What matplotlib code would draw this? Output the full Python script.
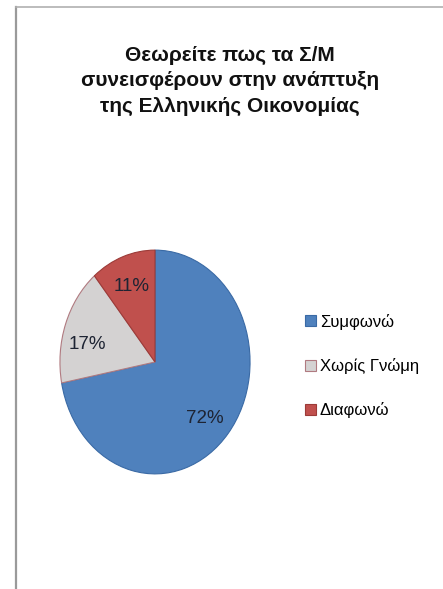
import matplotlib
matplotlib.use("Agg")
import matplotlib.pyplot as plt
from matplotlib.lines import Line2D

categories = ["Συμφωνώ", "Χωρίς Γνώμη", "Διαφωνώ"]
shares = [72, 17, 11]
colors = ["#4F81BD", "#D4D2D2", "#C0504D"]
edge_colors = ["#3A6AA5", "#B07A80", "#9C3B38"]
title = "Θεωρείτε πως τα Σ/Μ\nσυνεισφέρουν στην ανάπτυξη\nτης Ελληνικής Οικονομίας"

FONT = "Liberation Sans"
W, H = 443, 589
fig = plt.figure(figsize=(W / 100, H / 100), dpi=100)
fig.patch.set_facecolor("white")

# chart frame (left and top edges)
fig.add_artist(Line2D([16 / W, 16 / W], [0, 1 - 7 / H], color="#9A9A9A", lw=1.6))
fig.add_artist(Line2D([16 / W, 1], [1 - 7 / H, 1 - 7 / H], color="#B0B0B0", lw=1.2))

# title
fig.text(230 / W, 1 - 81 / H, title, ha="center", va="center",
         fontsize=15, fontweight="bold", family=FONT,
         linespacing=1.45, color="#111111")

# pie (slightly taller than wide)
cx, cy, rx, ry = 155, 362, 96, 113
ax = fig.add_axes([(cx - rx) / W, (H - cy - ry) / H, 2 * rx / W, 2 * ry / H])
wedges, texts, autotexts = ax.pie(
    shares, colors=colors, startangle=90, counterclock=False,
    autopct=lambda p: f"{p:.0f}%", pctdistance=0.72,
    wedgeprops=dict(linewidth=0.8),
    textprops=dict(fontsize=13.5, family=FONT, color="#1E2433"))
for w, ec in zip(wedges, edge_colors):
    w.set_edgecolor(ec)
# nudge the percentage labels a little inside their slices
for t, (dx, dy) in zip(autotexts, [(-0.03, -0.05), (-0.03, -0.09), (0.0, 0.0)]):
    x, y = t.get_position()
    t.set_position((x + dx, y + dy))
ax.set_aspect("auto")
ax.set_xlim(-1.01, 1.01)
ax.set_ylim(-1.01, 1.01)

# legend
leg = fig.legend(wedges, categories, loc="upper left",
                 bbox_to_anchor=(298 / W, 1 - 307 / H),
                 frameon=False, prop=dict(family=FONT, size=12),
                 handlelength=0.65, handleheight=0.65, handletextpad=0.25,
                 labelspacing=1.7, borderaxespad=0)

fig.savefig("out.png", dpi=100, facecolor="white")
